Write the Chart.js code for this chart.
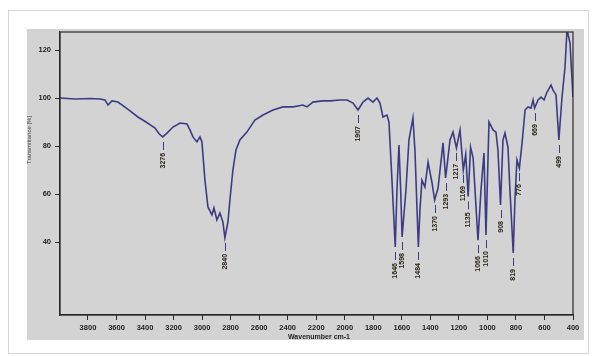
<!DOCTYPE html>
<html>
<head>
<meta charset="utf-8">
<script src="https://cdn.jsdelivr.net/npm/chart.js@4/dist/chart.umd.min.js"></script>
<style>
  html, body { margin: 0; padding: 0; background: #fff; }
  #wrap { width: 593px; height: 356px; position: relative; }
</style>
</head>
<body>
<div id="wrap"><canvas id="c" width="593" height="356"></canvas></div>
<script>
// IR spectrum: wavenumber (cm-1) and transmittance (%)
const wavenumbers = [
  3996, 3891, 3786, 3716, 3681, 3660, 3632, 3590, 3562, 3505, 3450, 3393, 3330, 3300,
  3276, 3246, 3204, 3155, 3106, 3085, 3064, 3036, 3015, 3001, 2980, 2959, 2931, 2917,
  2896, 2875, 2854, 2840, 2819, 2805, 2784, 2763, 2735, 2686, 2630, 2573, 2503, 2433,
  2363, 2293, 2265, 2223, 2160, 2103, 2033, 1984, 1942, 1907, 1872, 1837, 1802, 1774,
  1753, 1732, 1704, 1690, 1669, 1646, 1634, 1620, 1608, 1598, 1571, 1550, 1522, 1508,
  1484, 1473, 1459, 1438, 1416, 1388, 1370, 1346, 1311, 1293, 1262, 1241, 1217, 1192,
  1169, 1152, 1135, 1118, 1100, 1066, 1045, 1024, 1010, 989, 961, 940, 926, 908,
  891, 877, 856, 842, 819, 807, 793, 776, 757, 736, 715, 694, 680, 669,
  645, 624, 603, 582, 554, 540, 519, 499, 477, 456, 442, 421, 400
];
const transmittance = [
  100.0, 99.6, 99.8, 99.6, 99.2, 97.1, 98.8, 98.3, 97.1, 94.6, 92.1, 90.0, 87.5, 85.0,
  83.8, 85.4, 87.9, 89.6, 89.2, 86.7, 83.8, 81.7, 83.8, 81.7, 65.8, 54.6, 51.3, 54.2,
  49.2, 52.1, 48.3, 41.7, 48.3, 57.5, 70.0, 78.3, 82.5, 85.8, 90.8, 92.9, 95.0, 96.3,
  96.3, 97.1, 96.3, 98.3, 98.8, 98.8, 99.2, 99.2, 97.9, 95.0, 98.3, 100.0, 98.3, 100.0,
  97.9, 92.1, 92.9, 90.0, 65.8, 37.9, 61.7, 80.4, 61.7, 42.1, 61.7, 82.5, 91.7, 78.3,
  37.9, 53.3, 65.8, 62.9, 73.3, 64.6, 57.5, 62.5, 81.3, 66.7, 82.5, 85.8, 79.2, 86.7,
  70.0, 76.5, 59.0, 79.5, 75.0, 40.8, 61.7, 77.1, 42.9, 90.0, 86.7, 85.8, 78.3, 55.4,
  82.5, 85.4, 79.6, 61.7, 35.4, 57.5, 74.2, 70.8, 81.3, 95.0, 96.3, 95.8, 99.2, 95.8,
  99.2, 100.4, 99.2, 102.5, 105.4, 103.3, 101.3, 82.5, 100.4, 112.9, 128.5, 122.9, 100.4
];
// Labelled band positions (cm-1)
const peakLabels = [3276, 2840, 1907, 1646, 1598, 1484, 1370, 1293, 1217, 1169, 1135,
                    1066, 1010, 908, 819, 776, 669, 499];
const xTicks = [3800, 3600, 3400, 3200, 3000, 2800, 2600, 2400, 2200, 2000, 1800,
                1600, 1400, 1200, 1000, 800, 600, 400];
const yTicks = [40, 60, 80, 100, 120];

const LINE = '#3c3c84';
const INK = '#1e1e1e';

const panelPlugin = {
  id: 'panel',
  beforeDraw(chart) {
    const ctx = chart.ctx;
    ctx.save();
    ctx.fillStyle = '#ffffff';
    ctx.fillRect(0, 0, chart.width, chart.height);
    ctx.strokeStyle = '#d6d6d6';
    ctx.lineWidth = 1;
    ctx.strokeRect(8.5, 10.5, 580, 343);
    ctx.fillStyle = '#d3d3d3';
    ctx.fillRect(27, 29, 557, 311);
    ctx.restore();
  },
  afterDatasetsDraw(chart) {
    const ctx = chart.ctx;
    const xs = chart.scales.x, ys = chart.scales.y;
    ctx.save();
    ctx.font = 'bold 7px "Liberation Sans", Arial, sans-serif';
    ctx.fillStyle = '#2a2418';
    ctx.textAlign = 'right';
    ctx.textBaseline = 'middle';
    peakLabels.forEach(wn => {
      const i = wavenumbers.indexOf(wn);
      const px = Math.round(xs.getPixelForValue(wn)) + 0.5;
      const py = ys.getPixelForValue(transmittance[i]);
      ctx.strokeStyle = LINE;
      ctx.lineWidth = 1;
      ctx.beginPath();
      ctx.moveTo(px, py + 5);
      ctx.lineTo(px, py + 13);
      ctx.stroke();
      ctx.save();
      ctx.translate(px, py + 16);
      ctx.rotate(-Math.PI / 2);
      ctx.fillText(String(wn), 0, 0);
      ctx.restore();
    });
    ctx.restore();
  },
  afterDraw(chart) {
    const ctx = chart.ctx;
    const a = chart.chartArea;
    ctx.save();
    ctx.strokeStyle = '#2a2a2a';
    ctx.lineWidth = 1.2;
    ctx.strokeRect(a.left, a.top, a.right - a.left, a.bottom - a.top);
    ctx.fillStyle = INK;
    ctx.font = 'bold 7px "Liberation Sans", Arial, sans-serif';
    ctx.textAlign = 'center';
    ctx.textBaseline = 'middle';
    ctx.fillText('Wavenumber cm-1', 319, 337);
    ctx.save();
    ctx.translate(29, 140);
    ctx.rotate(-Math.PI / 2);
    ctx.font = '6px "Liberation Sans", Arial, sans-serif';
    ctx.fillStyle = '#444';
    ctx.fillText('Transmittance [%]', 0, 0);
    ctx.restore();
    ctx.restore();
  }
};

const plainTick = v => String(v);

new Chart(document.getElementById('c'), {
  type: 'line',
  data: {
    datasets: [{
      data: wavenumbers.map((x, i) => ({ x, y: transmittance[i] })),
      borderColor: LINE,
      borderWidth: 1.6,
      pointRadius: 0,
      tension: 0,
      fill: false
    }]
  },
  options: {
    responsive: false,
    animation: false,
    layout: { padding: { left: 27, top: 32, right: 20, bottom: 0 } },
    plugins: { legend: { display: false }, tooltip: { enabled: false } },
    scales: {
      x: {
        type: 'linear',
        reverse: true,
        min: 400,
        max: 3996,
        afterBuildTicks: s => { s.ticks = xTicks.map(v => ({ value: v })); },
        afterFit: s => { s.height = 41; },
        ticks: {
          autoSkip: false, maxRotation: 0, padding: 3, color: INK, callback: plainTick,
          font: { family: '"Liberation Sans", Arial, sans-serif', size: 7.5, weight: 'bold' }
        },
        grid: { drawOnChartArea: false, tickLength: 5, tickColor: '#2a2a2a', tickWidth: 1 },
        border: { color: '#2a2a2a', width: 1.2 }
      },
      y: {
        min: 9.6,
        max: 127.5,
        afterBuildTicks: s => { s.ticks = yTicks.map(v => ({ value: v })); },
        afterFit: s => { s.width = 33; },
        ticks: {
          autoSkip: false, padding: 4, color: INK, callback: plainTick,
          font: { family: '"Liberation Sans", Arial, sans-serif', size: 7.5, weight: 'bold' }
        },
        grid: { drawOnChartArea: false, tickLength: 5, tickColor: '#2a2a2a', tickWidth: 1 },
        border: { color: '#2a2a2a', width: 1.2 }
      }
    }
  },
  plugins: [panelPlugin]
});
</script>
</body>
</html>
